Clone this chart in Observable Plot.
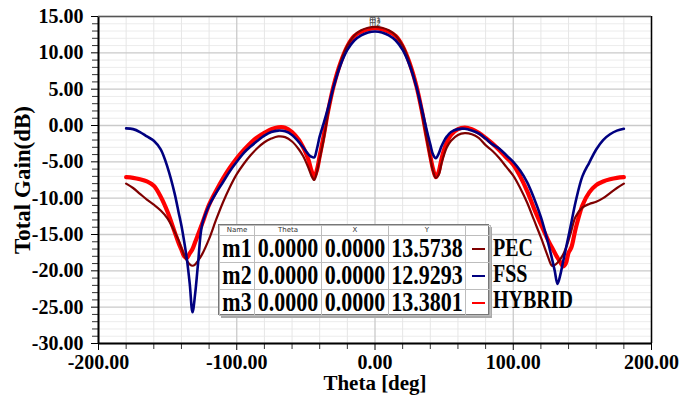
<!DOCTYPE html>
<html>
<head>
<meta charset="utf-8">
<script src="https://cdn.jsdelivr.net/npm/d3@7"></script>
<script src="https://cdn.jsdelivr.net/npm/@observablehq/plot@0.6"></script>
<style>
  html, body { margin: 0; padding: 0; background: #fff; }
  #wrap { position: relative; width: 694px; height: 397px; overflow: hidden; font-family: "Liberation Serif", "Times New Roman", serif; }
  #leg { position: absolute; left: 218px; top: 224px; width: 271px; height: 91px; border: 1px solid #777; box-shadow: 3px 3px 0 #a8a8a8; background: #fff; box-sizing: border-box; }
  #leg table { border-collapse: collapse; width: 100%; height: 100%; table-layout: fixed; }
  #leg td { border: 1px solid #bdbdbd; padding: 0; text-align: center; white-space: nowrap; }
  #leg td.h { font: 7px "DejaVu Sans", sans-serif; color: #333; height: 9px; line-height: 9px; }
  #leg td.v { font-weight: bold; font-size: 22px; line-height: 24px; color: #000; }
  #leg td.v span { display: inline-block; transform: scaleY(1.2); transform-origin: center; }
  .lab { position: absolute; left: 493px; font-weight: bold; font-size: 20px; line-height: 22px; color: #000; transform: scaleY(1.25); transform-origin: left center; white-space: nowrap; }
</style>
</head>
<body>
<div id="wrap"></div>
<script>
// ---- data ----
const theta = [-180,-175,-170,-165,-160,-155,-150,-145,-142,-140,-138,-136,-134,-132,-130,-128,-125,-120,-115,-110,-105,-100,-95,-90,-85,-80,-75,-70,-65,-60,-55,-52,-50,-48,-46,-44,-42,-40,-37,-34,-30,-25,-20,-15,-10,-5,0,
  5,10,15,20,25,30,34,37,40,42,44,46,48,50,52,55,60,65,70,75,80,85,90,95,100,105,110,115,120,125,128,130,132,134,136,138,140,142,145,150,155,160,165,170,175,180];

const pec = [-8.0,-8.6,-9.4,-10.2,-10.9,-11.7,-12.8,-14.6,-15.8,-16.9,-17.9,-18.6,-19.1,-19.3,-19.1,-18.6,-17.7,-15.6,-13.0,-10.6,-8.5,-6.7,-5.3,-4.1,-3.1,-2.3,-1.8,-1.5,-1.6,-2.2,-3.3,-4.2,-5.0,-5.9,-6.9,-7.5,-6.4,-4.6,-1.8,1.6,5.3,8.7,11.0,12.4,13.1,13.45,13.57,
  13.45,13.1,12.4,11.0,8.7,5.3,1.6,-1.5,-4.5,-6.3,-7.2,-6.8,-5.3,-4.0,-3.0,-2.1,-1.3,-1.05,-1.2,-1.7,-2.7,-3.5,-4.5,-5.7,-6.9,-8.6,-10.6,-13.0,-15.4,-18.0,-19.3,-19.2,-18.9,-18.4,-17.8,-16.9,-15.8,-14.5,-12.6,-11.3,-10.8,-10.5,-10.0,-9.3,-8.6,-8.0];

const fss = [-0.4,-0.5,-0.9,-1.5,-2.1,-3.3,-5.8,-9.3,-12.0,-13.8,-16.0,-18.5,-21.8,-25.7,-23.0,-19.0,-13.6,-11.0,-9.3,-7.8,-6.3,-5.0,-3.8,-2.9,-2.1,-1.4,-0.9,-0.7,-0.8,-1.3,-2.3,-3.0,-3.5,-4.0,-4.3,-4.4,-3.2,-1.5,0.4,2.4,5.3,8.3,10.4,11.7,12.4,12.8,12.93,
  12.8,12.4,11.7,10.4,8.3,5.3,2.2,-0.3,-2.6,-4.0,-4.5,-3.9,-2.9,-2.1,-1.5,-0.9,-0.5,-0.45,-0.7,-1.1,-1.8,-2.6,-3.2,-4.1,-5.0,-6.2,-7.8,-10.0,-12.6,-16.0,-18.3,-20.0,-21.8,-20.6,-18.8,-17.0,-15.2,-13.4,-10.6,-7.0,-5.1,-3.3,-2.0,-1.2,-0.7,-0.45];

const hybrid = [-7.1,-7.2,-7.4,-7.7,-8.3,-9.8,-11.9,-14.6,-16.2,-17.1,-18.0,-18.2,-17.6,-17.0,-16.0,-15.0,-13.5,-10.9,-9.0,-7.3,-5.8,-4.5,-3.4,-2.4,-1.6,-1.0,-0.5,-0.25,-0.3,-0.9,-2.0,-3.0,-3.8,-4.8,-6.2,-7.1,-6.1,-4.2,-1.3,1.9,5.4,8.6,10.9,12.3,12.9,13.25,13.38,
  13.25,12.9,12.3,10.9,8.6,5.4,1.9,-1.2,-4.2,-6.0,-7.1,-6.4,-4.7,-3.3,-2.3,-1.3,-0.5,-0.3,-0.5,-1.0,-1.7,-2.5,-3.4,-4.4,-5.4,-7.0,-9.0,-11.4,-13.6,-15.7,-16.8,-17.5,-18.2,-18.8,-19.4,-19.0,-17.5,-16.8,-14.3,-11.0,-9.2,-8.2,-7.7,-7.4,-7.2,-7.1];

const seriesNames = ["PEC", "FSS", "HYBRID"];
const seriesColors = ["#7f0000", "#000080", "#ff0000"];

const markerNames = ["m1", "m2", "m3"];
const markerTheta = [0, 0, 0];
const markerX = [0, 0, 0];
const markerY = [13.5738, 12.9293, 13.3801];

const xTicksMajor = [-200, -100, 0, 100, 200];
const xTicksMinor = d3.range(-200, 201, 20).filter(v => v % 100 !== 0);
const yTicksMajor = [-30, -25, -20, -15, -10, -5, 0, 5, 10, 15];
const yTicksMinor = d3.range(-30, 16, 1).filter(v => v % 5 !== 0);

// ---- build tables ----
const valuesBySeries = {PEC: pec, FSS: fss, HYBRID: hybrid};
const rows = s => theta.map((t, i) => ({theta: t, value: valuesBySeries[s][i], series: s}));
const markers = markerNames.map((n, i) => ({name: n, theta: markerTheta[i], y: markerY[i]}));

const chart = Plot.plot({
  width: 694,
  height: 397,
  marginLeft: 98,
  marginRight: 43,
  marginTop: 16,
  marginBottom: 54,
  style: {fontFamily: "'Liberation Serif', 'Times New Roman', serif", fontWeight: "bold", fontSize: "20px", color: "#000", background: "transparent"},
  x: {domain: [-200, 200]},
  y: {domain: [-30, 15]},
  marks: [
    Plot.ruleY(yTicksMinor, {stroke: "#ececec", strokeWidth: 1}),
    Plot.ruleX(xTicksMinor, {stroke: "#e6e6e6", strokeWidth: 1}),
    Plot.ruleY(yTicksMajor, {stroke: "#cacaca", strokeWidth: 1.3}),
    Plot.ruleX(xTicksMajor, {stroke: "#cacaca", strokeWidth: 1.3}),
    Plot.axisY(yTicksMinor, {tickSize: 6, tickFormat: () => "", label: null, stroke: "#333"}),
    Plot.axisY(yTicksMajor, {tickSize: 7, tickPadding: 8, tickFormat: d => d.toFixed(2), label: null, fontSize: 20, fontWeight: "bold", fill: "#000"}),
    Plot.axisX(xTicksMinor, {tickSize: 6, tickFormat: () => "", label: null, stroke: "#333"}),
    Plot.axisX(xTicksMajor, {tickSize: 7, tickPadding: 4, tickFormat: d => d.toFixed(2), label: null, fontSize: 20, fontWeight: "bold", fill: "#000"}),
    Plot.line(rows("HYBRID"), {x: "theta", y: "value", stroke: seriesColors[2], strokeWidth: 4.2, curve: "catmull-rom"}),
    Plot.line(rows("PEC"), {x: "theta", y: "value", stroke: seriesColors[0], strokeWidth: 2.2, curve: "catmull-rom"}),
    Plot.line(rows("FSS"), {x: "theta", y: "value", stroke: seriesColors[1], strokeWidth: 2.6, curve: "catmull-rom"}),
    Plot.text(markers, {x: "theta", y: "y", text: "name", fontSize: 7, fontWeight: "normal", fontFamily: "DejaVu Sans", fill: "#444", dy: -8}),
    Plot.ruleX([-200], {stroke: "#000", strokeWidth: 2}),
    Plot.ruleX([200], {stroke: "#000", strokeWidth: 1.5}),
    Plot.ruleY([-30], {stroke: "#000", strokeWidth: 2}),
    Plot.ruleY([15], {stroke: "#555", strokeWidth: 1.5}),
    Plot.text(["Theta [deg]"], {text: d => d, frameAnchor: "bottom", lineAnchor: "middle", textAnchor: "middle", dy: 40, fontSize: 21, fontWeight: "bold", fill: "#000"}),
    Plot.text(["Total Gain(dB)"], {text: d => d, frameAnchor: "left", textAnchor: "middle", lineAnchor: "middle", dx: -76, rotate: -90, fontSize: 23, fontWeight: "bold", fill: "#000"})
  ]
});

const wrap = document.getElementById("wrap");
wrap.appendChild(chart);

// ---- marker table (legend) ----
const leg = document.createElement("div");
leg.id = "leg";
const colW = [35, 67, 67, 77, 25];
const heads = ["Name", "Theta", "X", "Y", ""];
const rowH = [27, 27, 26];
let html = "<table><colgroup>" + colW.map(w => `<col style="width:${w}px">`).join("") + "</colgroup>";
html += "<tr>" + heads.map(h => `<td class="h">${h}</td>`).join("") + "</tr>";
markerNames.forEach((n, i) => {
  const cells = [n, markerTheta[i].toFixed(4), markerX[i].toFixed(4), markerY[i].toFixed(4)];
  html += `<tr style="height:${rowH[i]}px">` + cells.map(c => `<td class="v"><span>${c}</span></td>`).join("") +
    `<td><div style="width:13px;height:0;border-top:2px solid ${seriesColors[i]};margin:0 auto;"></div></td></tr>`;
});
html += "</table>";
leg.innerHTML = html;
wrap.appendChild(leg);

const labTops = [236, 262, 288];
seriesNames.forEach((s, i) => {
  const d = document.createElement("div");
  d.className = "lab";
  d.style.top = labTops[i] + "px";
  d.textContent = s;
  wrap.appendChild(d);
});
</script>
</body>
</html>
